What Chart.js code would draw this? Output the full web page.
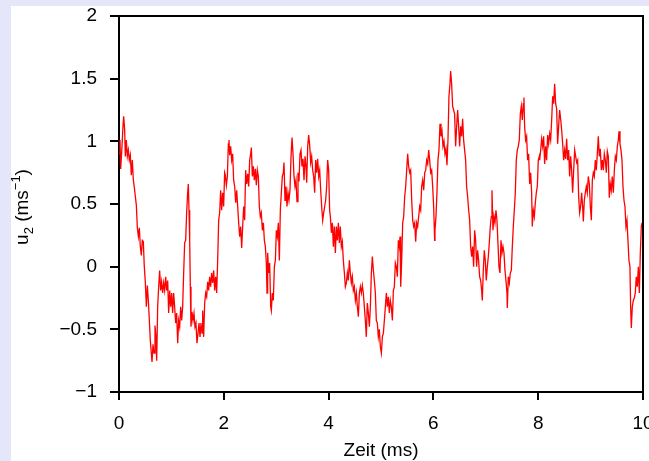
<!DOCTYPE html>
<html>
<head>
<meta charset="utf-8">
<script src="https://cdn.jsdelivr.net/npm/chart.js@4.4.1/dist/chart.umd.min.js"></script>
<style>
  body { margin: 0; background: #e6e6fa; }
  canvas { display: block; }
</style>
</head>
<body>
<canvas id="myChart" width="649" height="461"></canvas>
<script>
// Zeit in ms
const zeit = [
  0.000, 0.019, 0.032, 0.057, 0.076, 0.089, 0.108, 0.121, 0.140, 0.159, 0.178, 0.197, 0.216, 0.235, 0.254, 0.274, 0.293, 0.312, 0.331, 0.350,
  0.369, 0.388, 0.407, 0.426, 0.445, 0.464, 0.483, 0.503, 0.522, 0.541, 0.560, 0.579, 0.598, 0.617, 0.630, 0.649, 0.668, 0.687, 0.706, 0.719,
  0.738, 0.757, 0.776, 0.795, 0.814, 0.833, 0.852, 0.871, 0.891, 0.910, 0.929, 0.948, 0.967, 0.986, 1.005, 1.024, 1.043, 1.062, 1.081, 1.100,
  1.120, 1.139, 1.158, 1.177, 1.196, 1.215, 1.234, 1.253, 1.272, 1.291, 1.310, 1.323, 1.336, 1.349, 1.361, 1.374, 1.393, 1.412, 1.431, 1.450,
  1.469, 1.488, 1.508, 1.527, 1.546, 1.565, 1.584, 1.597, 1.616, 1.635, 1.654, 1.673, 1.692, 1.711, 1.730, 1.749, 1.768, 1.787, 1.807, 1.826,
  1.845, 1.864, 1.883, 1.902, 1.921, 1.940, 1.959, 1.978, 1.997, 2.016,
  2.029, 2.049, 2.068, 2.087, 2.099, 2.112, 2.131, 2.150, 2.169, 2.188, 2.208, 2.227, 2.246, 2.265, 2.284, 2.303, 2.322, 2.341, 2.360, 2.379,
  2.398, 2.417, 2.437, 2.456, 2.475, 2.494, 2.513, 2.526, 2.545, 2.564, 2.583, 2.602, 2.621, 2.640, 2.659, 2.678, 2.697, 2.716, 2.736, 2.755,
  2.774, 2.793, 2.812, 2.825, 2.837, 2.856, 2.875, 2.895, 2.907, 2.926, 2.945, 2.965, 2.984, 3.003, 3.022, 3.041, 3.060, 3.079, 3.098, 3.117,
  3.136, 3.149, 3.168, 3.187, 3.206, 3.225, 3.244, 3.263, 3.283, 3.302, 3.321, 3.340, 3.359, 3.378, 3.397, 3.416, 3.435, 3.454, 3.473, 3.492,
  3.512, 3.531, 3.550, 3.569, 3.582, 3.601, 3.620, 3.639, 3.658, 3.677, 3.696, 3.715, 3.734, 3.753, 3.772, 3.791, 3.811, 3.830, 3.849, 3.868,
  3.887, 3.906, 3.925, 3.944, 3.963, 3.982, 4.001, 4.020,
  4.033, 4.053, 4.072, 4.091, 4.110, 4.129, 4.148, 4.167, 4.186, 4.205, 4.224, 4.243, 4.262, 4.281, 4.301, 4.320, 4.339, 4.358, 4.377, 4.396,
  4.415, 4.434, 4.453, 4.472, 4.491, 4.511, 4.530, 4.549, 4.568, 4.587, 4.606, 4.625, 4.644, 4.663, 4.682, 4.701, 4.720, 4.739, 4.759, 4.778,
  4.797, 4.816, 4.835, 4.854, 4.873, 4.892, 4.911, 4.930, 4.949, 4.968, 4.988, 5.007, 5.026, 5.045, 5.064, 5.083, 5.102, 5.121, 5.140, 5.159,
  5.178, 5.197, 5.217, 5.236, 5.255, 5.274, 5.293, 5.312, 5.331, 5.350, 5.363, 5.376, 5.395, 5.414, 5.433, 5.452, 5.471, 5.490, 5.509, 5.528,
  5.547, 5.566, 5.586, 5.605, 5.624, 5.643, 5.662, 5.681, 5.700, 5.719, 5.738, 5.757, 5.776, 5.795, 5.815, 5.834, 5.853, 5.872, 5.891, 5.910,
  5.929, 5.948, 5.967, 5.986, 6.005, 6.024,
  6.030, 6.049, 6.068, 6.087, 6.106, 6.126, 6.145, 6.164, 6.183, 6.202, 6.221, 6.240, 6.259, 6.278, 6.297, 6.316, 6.329, 6.348, 6.367, 6.386,
  6.405, 6.424, 6.444, 6.463, 6.482, 6.501, 6.520, 6.539, 6.558, 6.577, 6.596, 6.615, 6.634, 6.653, 6.673, 6.692, 6.711, 6.730, 6.749, 6.768,
  6.787, 6.806, 6.825, 6.844, 6.863, 6.882, 6.902, 6.921, 6.933, 6.952, 6.971, 6.990, 7.009, 7.029, 7.048, 7.067, 7.086, 7.105, 7.118, 7.137,
  7.156, 7.175, 7.194, 7.213, 7.232, 7.251, 7.270, 7.290, 7.309, 7.328, 7.347, 7.366, 7.385, 7.404, 7.410, 7.430, 7.449, 7.468, 7.487, 7.506,
  7.525, 7.544, 7.563, 7.582, 7.601, 7.620, 7.639, 7.659, 7.678, 7.697, 7.716, 7.728, 7.741, 7.760, 7.779, 7.798, 7.817, 7.837, 7.856, 7.875,
  7.887, 7.907, 7.926, 7.945, 7.964, 7.983, 8.002, 8.021,
  8.028, 8.047, 8.066, 8.085, 8.104, 8.123, 8.142, 8.161, 8.180, 8.199, 8.219, 8.238, 8.257, 8.276, 8.295, 8.314, 8.333, 8.352, 8.371, 8.390,
  8.409, 8.428, 8.448, 8.467, 8.486, 8.505, 8.524, 8.543, 8.562, 8.581, 8.600, 8.619, 8.638, 8.657, 8.677, 8.696, 8.715, 8.734, 8.753, 8.772,
  8.791, 8.810, 8.829, 8.848, 8.861, 8.880, 8.899, 8.918, 8.937, 8.956, 8.976, 8.995, 9.014, 9.033, 9.052, 9.071, 9.090, 9.109, 9.128, 9.147,
  9.166, 9.185, 9.205, 9.224, 9.243, 9.262, 9.281, 9.300, 9.319, 9.338, 9.357, 9.376, 9.395, 9.414, 9.434, 9.453, 9.472, 9.491, 9.510, 9.529,
  9.542, 9.561, 9.580, 9.599, 9.618, 9.637, 9.656, 9.675, 9.694, 9.713, 9.732, 9.751, 9.764, 9.777, 9.796, 9.815, 9.834, 9.853, 9.872, 9.891,
  9.911, 9.930, 9.949, 9.968, 9.981
];

// u2 in m/s
const u2 = [
  0.90, 1.01, 0.78, 0.96, 1.12, 1.20, 1.09, 0.88, 1.01, 0.88, 0.93, 0.85, 0.89, 0.73, 0.85, 0.69, 0.63, 0.56, 0.49, 0.31,
  0.24, 0.31, 0.16, 0.09, 0.21, 0.20, 0.00, -0.13, -0.32, -0.15, -0.27, -0.43, -0.59, -0.69, -0.76, -0.62, -0.69, -0.47, -0.56, -0.75,
  -0.32, -0.16, -0.03, -0.19, -0.12, -0.21, -0.13, -0.19, -0.08, -0.19, -0.11, -0.37, -0.19, -0.32, -0.21, -0.37, -0.21, -0.32, -0.45, -0.37,
  -0.61, -0.43, -0.48, -0.32, -0.43, -0.32, -0.05, 0.19, 0.21, 0.43, 0.59, 0.66, 0.45, 0.21, -0.16, -0.48, -0.36, -0.43, -0.37, -0.48,
  -0.45, -0.61, -0.53, -0.45, -0.56, -0.45, -0.53, -0.35, -0.56, -0.29, -0.21, -0.24, -0.12, -0.19, -0.08, -0.16, -0.05, -0.13, -0.03, -0.19,
  -0.08, -0.21, 0.05, 0.37, 0.43, 0.61, 0.45, 0.59, 0.48, 0.75,
  0.73, 0.65, 0.72, 0.98, 1.01, 0.89, 0.96, 0.85, 0.90, 0.69, 0.64, 0.51, 0.61, 0.48, 0.35, 0.24, 0.32, 0.15, 0.32, 0.48,
  0.37, 0.77, 0.66, 0.74, 0.64, 0.85, 0.90, 0.95, 0.72, 0.80, 0.69, 0.78, 0.65, 0.77, 0.72, 0.48, 0.40, 0.43, 0.29, 0.35,
  0.21, 0.16, 0.03, -0.21, 0.11, -0.05, 0.03, -0.32, -0.35, -0.21, -0.27, 0.00, 0.05, 0.29, 0.24, 0.35, 0.05, 0.45, 0.59, 0.72,
  0.75, 0.83, 0.53, 0.64, 0.48, 0.59, 0.53, 0.61, 0.88, 1.03, 0.90, 0.72, 0.64, 0.69, 0.52, 0.75, 0.68, 0.90, 0.93, 0.80,
  0.86, 0.69, 0.88, 0.80, 0.67, 0.96, 1.05, 0.97, 0.83, 0.88, 0.77, 0.72, 0.59, 0.85, 0.75, 0.86, 0.72, 0.77, 0.61, 0.48,
  0.37, 0.43, 0.48, 0.53, 0.64, 0.85, 0.77, 0.45,
  0.40, 0.27, 0.35, 0.16, 0.32, 0.11, 0.32, 0.21, 0.35, 0.19, 0.32, 0.16, 0.20, 0.05, -0.05, -0.16, -0.13, -0.05, -0.11, 0.05,
  -0.05, -0.13, -0.08, -0.19, -0.16, -0.27, -0.21, -0.32, -0.40, -0.21, -0.16, -0.21, -0.15, -0.21, -0.32, -0.43, -0.56, -0.29, -0.37, -0.48,
  -0.32, -0.05, 0.08, -0.03, -0.11, -0.21, -0.43, -0.45, -0.56, -0.50, -0.64, -0.69, -0.56, -0.53, -0.43, -0.32, -0.21, -0.32, -0.24, -0.37,
  -0.27, -0.32, -0.43, -0.19, -0.16, 0.03, 0.00, -0.08, 0.21, 0.16, 0.24, -0.16, 0.05, 0.35, 0.40, 0.56, 0.64, 0.77, 0.90, 0.80,
  0.75, 0.77, 0.53, 0.37, 0.32, 0.35, 0.20, 0.35, 0.32, 0.40, 0.48, 0.45, 0.64, 0.69, 0.61, 0.75, 0.77, 0.85, 0.82, 0.93,
  0.85, 0.75, 0.77, 0.64, 0.48, 0.21,
  0.29, 0.40, 0.59, 0.85, 0.93, 1.14, 1.04, 1.08, 0.96, 1.00, 0.90, 0.94, 0.81, 1.01, 1.36, 1.46, 1.56, 1.46, 1.28, 1.25,
  1.22, 0.96, 1.12, 1.25, 1.12, 0.96, 1.12, 1.04, 1.18, 1.01, 0.93, 0.85, 0.64, 0.56, 0.45, 0.37, 0.16, 0.08, 0.16, 0.00,
  0.29, 0.21, 0.00, 0.13, 0.05, -0.08, -0.11, -0.19, -0.27, -0.03, 0.13, 0.05, -0.11, 0.00, 0.08, 0.19, 0.32, 0.40, 0.61, 0.29,
  0.40, 0.35, 0.45, 0.37, 0.19, 0.00, -0.05, 0.21, 0.11, 0.16, 0.11, -0.03, -0.11, -0.21, -0.33, -0.08, -0.13, -0.05, -0.03, 0.16,
  0.32, 0.45, 0.59, 0.85, 0.93, 0.96, 1.01, 1.22, 1.28, 1.17, 1.30, 1.35, 1.12, 1.01, 1.04, 0.85, 0.90, 0.66, 0.75, 0.59,
  0.32, 0.45, 0.40, 0.51, 0.59, 0.64, 0.85, 0.88,
  0.85, 0.93, 1.02, 0.96, 1.04, 0.82, 0.96, 0.85, 1.05, 0.98, 1.06, 1.01, 1.17, 1.36, 1.30, 1.46, 1.30, 1.26, 0.98, 1.12,
  1.25, 1.18, 1.09, 0.98, 0.85, 0.93, 0.86, 1.02, 0.85, 0.93, 0.72, 0.88, 0.77, 0.59, 0.77, 0.93, 0.88, 0.83, 0.85, 0.56,
  0.43, 0.48, 0.59, 0.48, 0.36, 0.53, 0.59, 0.64, 0.59, 0.72, 0.66, 0.48, 0.37, 0.69, 0.75, 0.72, 0.85, 0.77, 0.90, 1.04,
  0.88, 0.94, 0.77, 0.85, 0.77, 0.90, 0.85, 0.75, 0.92, 0.88, 0.55, 0.66, 0.61, 0.72, 0.59, 0.77, 0.88, 0.85, 0.96, 1.01,
  1.08, 0.98, 0.93, 0.85, 0.64, 0.53, 0.48, 0.32, 0.37, 0.21, 0.05, 0.00, -0.32, -0.49, -0.32, -0.27, -0.25, -0.21, -0.08, -0.16,
  0.00, -0.21, 0.11, 0.32, 0.35
];

const xTicks = [0, 2, 4, 6, 8, 10];
const yTicks = [-1, -0.5, 0, 0.5, 1, 1.5, 2];
const xTitel = "Zeit (ms)";

const schrift = "'Liberation Sans', Arial, sans-serif";
const ctx = document.getElementById("myChart");

const punkte = zeit.map(function (t, i) {
  return { x: t, y: u2[i] };
});

function zahl(v) {
  return v < 0 ? "\u2212" + Math.abs(v) : String(v);
}

// Hintergrund, Rahmen und Achsentitel
const rahmen = {
  id: "rahmen",
  beforeDraw: function (chart) {
    const c = chart.ctx;
    c.save();
    c.fillStyle = "#e6e6fa";
    c.fillRect(0, 0, chart.width, chart.height);
    c.fillStyle = "#ffffff";
    c.fillRect(11, 6, chart.width - 11, chart.height - 6);
    c.restore();
  },
  afterDraw: function (chart) {
    const c = chart.ctx;
    const a = chart.chartArea;
    c.save();
    c.strokeStyle = "#000";
    c.lineWidth = 2;
    c.beginPath();
    c.moveTo(a.left, a.top);
    c.lineTo(a.right, a.top);
    c.lineTo(a.right, a.bottom);
    c.stroke();

    c.fillStyle = "#000";
    c.font = "19px " + schrift;
    c.textAlign = "center";
    c.textBaseline = "alphabetic";
    c.fillText(xTitel, (a.left + a.right) / 2, 456);

    // y-Titel mit Index und Exponent
    const teile = [
      { s: "u", f: 19, dy: 0 },
      { s: "2", f: 13, dy: 5 },
      { s: " (ms", f: 19, dy: 0 },
      { s: "\u22121", f: 13, dy: -8 },
      { s: ")", f: 19, dy: 0 },
    ];
    let breite = 0;
    teile.forEach(function (p) {
      c.font = p.f + "px " + schrift;
      p.w = c.measureText(p.s).width;
      breite += p.w;
    });
    c.translate(28, 207);
    c.rotate(-Math.PI / 2);
    c.textAlign = "left";
    let x = -breite / 2;
    teile.forEach(function (p) {
      c.font = p.f + "px " + schrift;
      c.fillText(p.s, x, p.dy);
      x += p.w;
    });
    c.restore();
  },
};

new Chart(ctx, {
  type: "line",
  data: {
    datasets: [
      {
        data: punkte,
        borderColor: "#ff0000",
        borderWidth: 1.3,
        pointRadius: 0,
        tension: 0,
        fill: false,
      },
    ],
  },
  options: {
    responsive: false,
    animation: false,
    devicePixelRatio: 1,
    layout: { padding: { top: 16, right: 6, left: 0, bottom: 0 } },
    plugins: {
      legend: { display: false },
      tooltip: { enabled: false },
    },
    scales: {
      x: {
        type: "linear",
        min: 0,
        max: 10,
        afterBuildTicks: function (scale) {
          scale.ticks = xTicks.map(function (v) { return { value: v }; });
        },
        afterFit: function (scale) {
          scale.height = 69;
          scale.paddingLeft = 0;
          scale.paddingRight = 0;
        },
        border: { color: "#000", width: 2 },
        grid: { drawOnChartArea: false, tickLength: 8, tickColor: "#000", lineWidth: 2 },
        ticks: {
          color: "#000",
          padding: 12,
          maxRotation: 0,
          autoSkip: false,
          font: { family: schrift, size: 19 },
          callback: function (v) { return zahl(v); },
        },
      },
      y: {
        min: -1,
        max: 2,
        afterBuildTicks: function (scale) {
          scale.ticks = yTicks.map(function (v) { return { value: v }; });
        },
        afterFit: function (scale) {
          scale.width = 119;
          scale.paddingTop = 0;
          scale.paddingBottom = 0;
        },
        border: { color: "#000", width: 2 },
        grid: { drawOnChartArea: false, tickLength: 9, tickColor: "#000", lineWidth: 2 },
        ticks: {
          color: "#000",
          padding: 13,
          autoSkip: false,
          font: { family: schrift, size: 19 },
          callback: function (v) { return zahl(v); },
        },
      },
    },
  },
  plugins: [rahmen],
});
</script>
</body>
</html>
